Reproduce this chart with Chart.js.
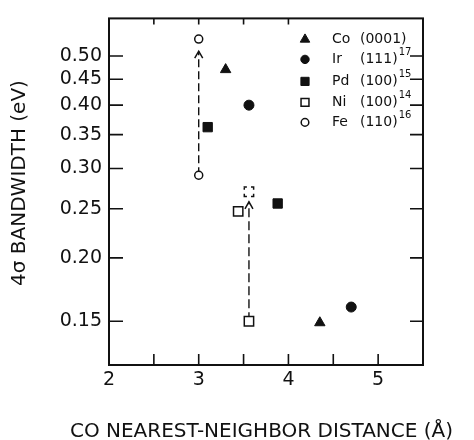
<!DOCTYPE html>
<html><head><meta charset="utf-8">
<script src="https://cdn.jsdelivr.net/npm/chart.js@4.4.1/dist/chart.umd.min.js"></script>
<style>html,body{margin:0;padding:0;background:#fff;overflow:hidden}</style>
</head><body>
<canvas id="c" width="474" height="440" style="display:block;width:474px;height:440px"></canvas>
<script>
// ---- data ----
const coX = [3.30, 4.35], coY = [0.470, 0.149];
const irX = [3.56, 4.70], irY = [0.400, 0.160];
const pdX = [3.10, 3.88], pdY = [0.362, 0.256];
const niX = [3.44, 3.56], niY = [0.247, 0.150];
const niShiftX = [3.56], niShiftY = [0.270];
const feX = [3.00, 3.00], feY = [0.540, 0.291];
const feArrowX = [3.00, 3.00], feArrowY = [0.291, 0.511];
const niArrowX = [3.56, 3.56], niArrowY = [0.150, 0.258];
const xTickLabels = [2, 3, 4, 5];
const yTickLabels = [0.15, 0.20, 0.25, 0.30, 0.35, 0.40, 0.45, 0.50];
const xMarksBottom = [2.5, 3, 3.5, 4, 4.5, 5];
const xMarksTop = [2.5, 3, 3.5, 4];
const legendNames = ['Co', 'Ir', 'Pd', 'Ni', 'Fe'];
const legendFaces = ['(0001)', '(111)', '(100)', '(100)', '(110)'];
const legendRefs = ['', '17', '15', '14', '16'];
const xTitle = 'CO NEAREST-NEIGHBOR DISTANCE (Å)';
const yTitle = '4σ BANDWIDTH (eV)';

const pts = (xs, ys) => xs.map((x, i) => ({x: x, y: ys[i]}));
const INK = '#111';
const FONT = "'DejaVu Sans', sans-serif";

const datasets = [
  {label: legendNames[0], data: pts(coX, coY), pointStyle: 'triangle', pointRadius: 6, backgroundColor: INK, borderColor: INK, borderWidth: 1, legendRadius: 5.5},
  {label: legendNames[1], data: pts(irX, irY), pointStyle: 'circle', pointRadius: 5, backgroundColor: INK, borderColor: INK, borderWidth: 1, legendRadius: 4.2},
  {label: legendNames[2], data: pts(pdX, pdY), pointStyle: 'rect', pointRadius: 6.6, backgroundColor: INK, borderColor: INK, borderWidth: 1, legendRadius: 5.8},
  {label: legendNames[3], data: pts(niX, niY), pointStyle: 'rect', pointRadius: 6.6, backgroundColor: '#fff', borderColor: INK, borderWidth: 1.5, legendRadius: 5.6},
  {label: 'Ni shifted', data: pts(niShiftX, niShiftY), pointStyle: 'rect', pointRadius: 6.6, backgroundColor: '#fff', borderColor: INK, borderWidth: 1.5, dashedMarker: true},
  {label: legendNames[4], data: pts(feX, feY), pointStyle: 'circle', pointRadius: 4, backgroundColor: '#fff', borderColor: INK, borderWidth: 1.5, legendRadius: 3.8},
  {label: 'Fe shift', data: pts(feArrowX, feArrowY), showLine: true, pointRadius: 0, borderColor: INK, borderWidth: 1.4, borderDash: [8, 4], arrow: true},
  {label: 'Ni shift', data: pts(niArrowX, niArrowY), showLine: true, pointRadius: 0, borderColor: INK, borderWidth: 1.4, borderDash: [9, 4], arrow: true}
];

const dashedMarkers = {
  id: 'dashedMarkers',
  beforeDatasetDraw(chart, args) {
    if (chart.data.datasets[args.index].dashedMarker) {
      chart.ctx.save();
      chart.ctx.setLineDash([2.6, 4.1, 2.6, 0.03]);
    }
  },
  afterDatasetDraw(chart, args) {
    if (chart.data.datasets[args.index].dashedMarker) chart.ctx.restore();
  }
};

const arrowHeads = {
  id: 'arrowHeads',
  afterDatasetsDraw(chart) {
    const ctx = chart.ctx;
    chart.data.datasets.forEach((ds, i) => {
      if (!ds.arrow) return;
      const meta = chart.getDatasetMeta(i);
      const tip = meta.data[meta.data.length - 1];
      ctx.save();
      ctx.strokeStyle = INK; ctx.lineWidth = 1.5; ctx.setLineDash([]);
      ctx.beginPath();
      ctx.moveTo(tip.x - 4, tip.y + 7);
      ctx.lineTo(tip.x, tip.y);
      ctx.lineTo(tip.x + 4, tip.y + 7);
      ctx.stroke();
      ctx.restore();
    });
  }
};

const frame = {
  id: 'frame',
  afterDraw(chart) {
    const ctx = chart.ctx, ca = chart.chartArea, xs = chart.scales.x, ys = chart.scales.y;
    ctx.save();
    ctx.strokeStyle = INK;
    ctx.lineWidth = 2;
    ctx.strokeRect(ca.left, ca.top, ca.right - ca.left, ca.bottom - ca.top);
    ctx.lineWidth = 1.6;
    ctx.beginPath();
    yTickLabels.forEach(v => {
      const p = ys.getPixelForValue(v);
      ctx.moveTo(ca.left, p); ctx.lineTo(ca.left + 14, p);
      ctx.moveTo(ca.right, p); ctx.lineTo(ca.right - 13, p);
    });
    xMarksBottom.forEach(v => {
      const p = xs.getPixelForValue(v);
      ctx.moveTo(p, ca.bottom); ctx.lineTo(p, ca.bottom - 11);
    });
    xMarksTop.forEach(v => {
      const p = xs.getPixelForValue(v);
      ctx.moveTo(p, ca.top); ctx.lineTo(p, ca.top + 6);
    });
    ctx.stroke();

    // axis titles
    ctx.fillStyle = INK;
    ctx.font = '20px ' + FONT;
    ctx.textAlign = 'center';
    ctx.textBaseline = 'alphabetic';
    ctx.fillText(xTitle, 261.5, 437);
    ctx.save();
    ctx.translate(25, 183);
    ctx.rotate(-Math.PI / 2);
    ctx.fillText(yTitle, 0, 0);
    ctx.restore();

    // legend
    const rows = [21, 41, 63, 84, 104];
    const legendSets = [0, 1, 2, 3, 5];
    legendSets.forEach((di, k) => {
      const ds = chart.data.datasets[di];
      const y = ca.top + rows[k];
      const sx = ca.left + 196;
      ctx.save();
      ctx.fillStyle = ds.backgroundColor;
      ctx.strokeStyle = ds.borderColor;
      ctx.lineWidth = ds.borderWidth;
      Chart.helpers.drawPoint(ctx, {pointStyle: ds.pointStyle, radius: ds.legendRadius, rotation: 0, borderWidth: ds.borderWidth}, sx, y);
      ctx.restore();
      ctx.fillStyle = INK;
      ctx.textAlign = 'left';
      ctx.textBaseline = 'middle';
      ctx.font = '14px ' + FONT;
      ctx.fillText(legendNames[k], ca.left + 223, y);
      const fx = ca.left + 251;
      ctx.fillText(legendFaces[k], fx, y);
      const w = ctx.measureText(legendFaces[k]).width;
      if (legendRefs[k]) {
        ctx.font = '10px ' + FONT;
        ctx.fillText(legendRefs[k], fx + w + 1, y - 7);
      }
    });
    ctx.restore();
  }
};

new Chart(document.getElementById('c'), {
  type: 'scatter',
  data: {datasets: datasets},
  options: {
    responsive: false,
    animation: false,
    devicePixelRatio: 1,
    layout: {padding: {left: 0, right: 51, top: 14, bottom: 0}},
    plugins: {legend: {display: false}, tooltip: {enabled: false}},
    scales: {
      x: {
        type: 'linear', min: 2, max: 5.5,
        grid: {display: false, drawTicks: false},
        border: {display: false},
        ticks: {font: {family: FONT, size: 19}, color: INK, padding: 4, autoSkip: false, maxRotation: 0, callback: v => String(v)},
        afterBuildTicks: s => { s.ticks = xTickLabels.map(v => ({value: v})); },
        afterFit: s => { s.height = 75; }
      },
      y: {
        type: 'logarithmic', min: 0.123, max: 0.593,
        grid: {display: false, drawTicks: false},
        border: {display: false},
        ticks: {font: {family: FONT, size: 19}, color: INK, padding: 7, autoSkip: false, callback: v => Number(v).toFixed(2)},
        afterBuildTicks: s => { s.ticks = yTickLabels.map(v => ({value: v})); },
        afterFit: s => { s.width = 109; }
      }
    }
  },
  plugins: [dashedMarkers, arrowHeads, frame]
});
</script>
</body></html>
